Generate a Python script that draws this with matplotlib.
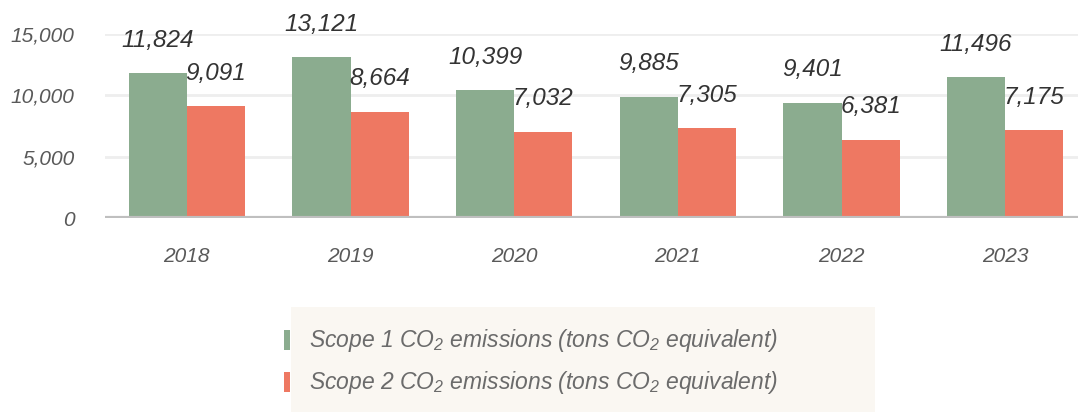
import matplotlib.pyplot as plt
import numpy as np
from matplotlib.patches import Rectangle

plt.rcParams['font.family'] = ['Liberation Sans', 'DejaVu Sans']
plt.rcParams['mathtext.fontset'] = 'custom'
plt.rcParams['mathtext.it'] = 'Liberation Sans:italic'
plt.rcParams['mathtext.rm'] = 'Liberation Sans:italic'
plt.rcParams['mathtext.default'] = 'it'

years = ['2018', '2019', '2020', '2021', '2022', '2023']
scope1 = [11824, 13121, 10399, 9885, 9401, 11496]
scope2 = [9091, 8664, 7032, 7305, 6381, 7175]
labels = ['Scope 1 CO$_2$ emissions (tons CO$_2$ equivalent)',
          'Scope 2 CO$_2$ emissions (tons CO$_2$ equivalent)']
colors = ['#8BAC8F', '#EE7862']

W, H = 1078, 412
fig = plt.figure(figsize=(W / 100, H / 100), dpi=100)
ax = fig.add_axes([105 / W, 1 - 218 / H, (1087 - 105) / W, 184 / H])

x = np.arange(len(years))
bw = 0.355
for vals, off, c in [(scope1, -bw / 2, colors[0]), (scope2, bw / 2, colors[1])]:
    bars = ax.bar(x + off, vals, bw, color=c, zorder=3)
    for b, v in zip(bars, vals):
        ax.annotate(f'{v:,}', (b.get_x() + b.get_width() / 2, v), xytext=(0, 19),
                    textcoords='offset points', ha='center', va='baseline',
                    fontsize=17.5, style='italic', color='#333333', zorder=5)

ax.set_xlim(-0.5, len(years) - 0.5)
ax.set_ylim(0, 15000)
ax.set_yticks([0, 5000, 10000, 15000])
ax.set_yticklabels(['0', '5,000', '10,000', '15,000'])
ax.set_xticks(x)
ax.set_xticklabels(years)
for lab in ax.get_xticklabels() + ax.get_yticklabels():
    lab.set_style('italic')
    lab.set_color('#595959')
    lab.set_fontsize(15)
ax.tick_params(axis='y', length=0, pad=22)
ax.tick_params(axis='x', length=0, pad=21)
ax.grid(axis='y', color='#eeeeee', linewidth=2, zorder=0)
for s in ax.spines.values():
    s.set_visible(False)
ax.axhline(0, color='#bfbfbf', linewidth=3, zorder=4)

# legend box
fig.patches.append(Rectangle((291 / W, 0), (875 - 291) / W, (412 - 307) / H,
                             transform=fig.transFigure, facecolor='#FAF7F2',
                             edgecolor='none', zorder=0))
for i, (lab, c) in enumerate(zip(labels, colors)):
    yc = 340 + 42 * i
    fig.patches.append(Rectangle((284 / W, 1 - (yc + 10) / H), 6 / W, 20 / H,
                                 transform=fig.transFigure, facecolor=c,
                                 edgecolor='none', zorder=1))
    fig.text(309 / W, 1 - (yc + 7) / H, lab, fontsize=16.5, style='italic',
             color='#6b6b6b', va='baseline', ha='left')

fig.savefig('out.png', dpi=100)
